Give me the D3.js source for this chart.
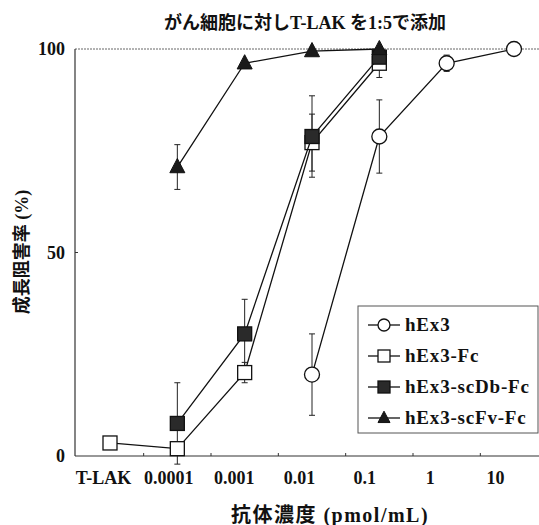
<!DOCTYPE html>
<html><head><meta charset="utf-8">
<script src="https://cdn.jsdelivr.net/npm/d3@7"></script>
<style>
html,body{margin:0;padding:0;background:#fff;}
svg{display:block;}
text{font-family:"Liberation Serif","Noto Sans CJK JP",serif;font-weight:bold;fill:#111;}
</style></head>
<body>
<script>
const categories = ["T-LAK","0.0001","0.001","0.01","0.1","1","10"];
const yTicks = [0, 50, 100];
const seriesNames = ["hEx3","hEx3-Fc","hEx3-scDb-Fc","hEx3-scFv-Fc"];
// values: [category, mean, error]
const hEx3 = [["0.01",20,10],["0.1",78.5,9],["1",96.5,2],["10",100,0]];
const hEx3Fc = [["T-LAK",3.2,0],["0.0001",1.8,0],["0.001",20.5,2.5],["0.01",77,7],["0.1",96.5,3.5]];
const hEx3scDbFc = [["0.0001",8,10],["0.001",30,8.5],["0.01",78.5,10],["0.1",98,0]];
const hEx3scFvFc = [["0.0001",71,5.5],["0.001",96.5,0],["0.01",99.5,0],["0.1",100,0]];
const titleText = "がん細胞に対しT-LAK を1:5で添加";
const xTitle = "抗体濃度 (pmol/mL)";
const yTitle = "成長阻害率 (%)";

const W = 539, H = 525;
const svg = d3.select("body").append("svg").attr("width", W).attr("height", H);

const x = d3.scalePoint().domain(categories).range([110, 514]);
const xLab = d3.scalePoint().domain(categories).range([103, 495]);
const y = d3.scaleLinear().domain([0, 100]).range([456, 49]);
const left = 75, right = 539;

// frame
svg.append("line").attr("x1", left).attr("x2", right).attr("y1", y(100)).attr("y2", y(100))
  .attr("stroke", "#666").attr("stroke-width", 1).attr("stroke-dasharray", "2,1");
svg.append("line").attr("x1", left).attr("x2", right).attr("y1", y(0)).attr("y2", y(0))
  .attr("stroke", "#333").attr("stroke-width", 1.2);
svg.append("line").attr("x1", left).attr("x2", left).attr("y1", y(100)).attr("y2", y(0))
  .attr("stroke", "#333").attr("stroke-width", 1.2);

// minor ticks between categories
const step = x.step();
const mids = categories.slice(1).map(c => x(c) - step / 2);
svg.selectAll(".mt").data(mids).enter().append("line")
  .attr("x1", d => d).attr("x2", d => d).attr("y1", y(0)).attr("y2", y(0) - 3)
  .attr("stroke", "#333").attr("stroke-width", 1);
// y tick at 50
svg.append("line").attr("x1", left).attr("x2", left + 3).attr("y1", y(50)).attr("y2", y(50))
  .attr("stroke", "#333");

// y tick labels
const yAxis = d3.axisLeft(y).tickValues(yTicks).tickSize(0).tickPadding(10);
const gy = svg.append("g").attr("transform", `translate(${left},0)`).call(yAxis);
gy.select(".domain").remove();
gy.selectAll("text").style("font-size", "18px").style("font-family", "Liberation Serif").style("font-weight", "bold").attr("fill", "#111");

// x tick labels
const xAxis = d3.axisBottom(xLab).tickSize(0).tickPadding(0);
const gx = svg.append("g").attr("transform", `translate(0,${y(0) + 15})`).call(xAxis);
gx.select(".domain").remove();
gx.selectAll("text").style("font-size", "18px").style("font-family", "Liberation Serif").style("font-weight", "bold").attr("fill", "#111");

// titles
svg.append("text").attr("x", 305).attr("y", 29).attr("text-anchor", "middle")
  .style("font-size", "18px").text(titleText);
svg.append("text").attr("x", 330).attr("y", 522).attr("text-anchor", "middle")
  .style("font-size", "20px").style("letter-spacing", "1.5px").text(xTitle);
svg.append("text").attr("transform", `translate(28,252) rotate(-90)`).attr("text-anchor", "middle")
  .style("font-size", "18px").text(yTitle);

// marker helpers
function marker(g, type, cx, cy, s) {
  if (type === "circle") {
    g.append("circle").attr("cx", cx).attr("cy", cy).attr("r", s / 2)
      .attr("fill", "#fff").attr("stroke", "#111").attr("stroke-width", 1.3);
  } else if (type === "osquare") {
    g.append("rect").attr("x", cx - s / 2).attr("y", cy - s / 2).attr("width", s).attr("height", s)
      .attr("fill", "#fff").attr("stroke", "#111").attr("stroke-width", 1.3);
  } else if (type === "fsquare") {
    g.append("rect").attr("x", cx - s / 2).attr("y", cy - s / 2).attr("width", s).attr("height", s)
      .attr("fill", "#2a2a2a").attr("stroke", "#111").attr("stroke-width", 1.3);
  } else {
    const h = s * 0.95;
    g.append("path").attr("d", `M${cx},${cy - h * 0.6}L${cx + s / 2},${cy + h * 0.4}L${cx - s / 2},${cy + h * 0.4}Z`)
      .attr("fill", "#1a1a1a").attr("stroke", "#111").attr("stroke-width", 1);
  }
}

const series = [
  {data: hEx3, type: "circle", size: 15},
  {data: hEx3Fc, type: "osquare", size: 14},
  {data: hEx3scDbFc, type: "fsquare", size: 14},
  {data: hEx3scFvFc, type: "triangle", size: 15}
];
const line = d3.line().x(d => x(d[0])).y(d => y(d[1]));

// error bars first
series.forEach(s => {
  const g = svg.append("g");
  s.data.filter(d => d[2] > 0).forEach(d => {
    const cx = x(d[0]);
    g.append("line").attr("x1", cx).attr("x2", cx).attr("y1", y(d[1] + d[2])).attr("y2", y(d[1] - d[2]))
      .attr("stroke", "#222").attr("stroke-width", 1);
    [d[1] + d[2], d[1] - d[2]].forEach(v => {
      g.append("line").attr("x1", cx - 3).attr("x2", cx + 3).attr("y1", y(v)).attr("y2", y(v))
        .attr("stroke", "#222").attr("stroke-width", 1);
    });
  });
});
series.forEach(s => {
  const g = svg.append("g");
  g.append("path").attr("d", line(s.data)).attr("fill", "none").attr("stroke", "#111").attr("stroke-width", 1.3);
  s.data.forEach(d => marker(g, s.type, x(d[0]), y(d[1]), s.size));
});

// legend
const lg = svg.append("g");
lg.append("rect").attr("x", 358).attr("y", 306).attr("width", 180).attr("height", 127)
  .attr("fill", "#fff").attr("stroke", "#555").attr("stroke-width", 1);
seriesNames.forEach((n, i) => {
  const cy = 325 + i * 31;
  lg.append("line").attr("x1", 368).attr("x2", 400).attr("y1", cy).attr("y2", cy).attr("stroke", "#111").attr("stroke-width", 1.3);
  marker(lg, series[i].type, 384, cy, 12);
  lg.append("text").attr("x", 405).attr("y", cy + 6).style("font-size", "19px").style("letter-spacing", "0.8px").text(n);
});
</script>
</body></html>
